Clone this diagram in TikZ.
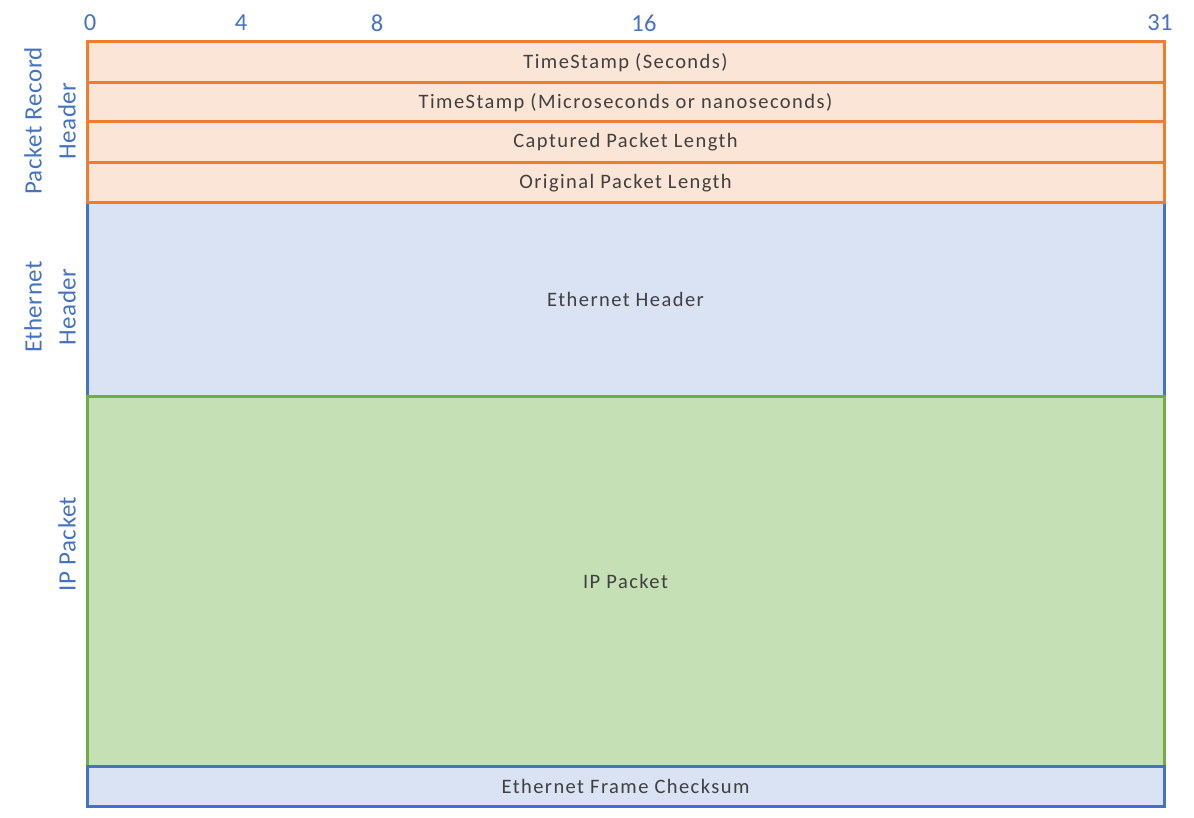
\documentclass[tikz,border=0pt]{standalone}
\usepackage{fontspec}
\setmainfont{Carlito}
\newfontfamily\fieldfont[LetterSpace=7]{Carlito}
\newfontfamily\labelfont[LetterSpace=2]{Carlito}
\definecolor{orangeline}{HTML}{ED7D31}
\definecolor{orangefill}{HTML}{FBE5D6}
\definecolor{blueline}{HTML}{4472C4}
\definecolor{bluefill}{HTML}{DAE3F3}
\definecolor{greenline}{HTML}{70AD47}
\definecolor{greenfill}{HTML}{C5E0B4}
\definecolor{fieldtext}{HTML}{404040}
\tikzset{
  field/.style={rectangle, inner sep=0pt, line width=3pt, minimum width=1077pt,
    text=fieldtext, font=\fieldfont\fontsize{20.5}{24}\selectfont},
  recfield/.style={field, draw=orangeline, fill=orangefill, minimum height=40.5pt},
  ethfield/.style={field, draw=blueline, fill=bluefill},
  ipfield/.style={field, draw=greenline, fill=greenfill},
  bitlabel/.style={text=blueline, font=\labelfont\fontsize{24.5}{28}\selectfont, inner sep=0pt},
  sidelabel/.style={text=blueline, font=\labelfont\fontsize{25}{34}\selectfont, rotate=90,
    align=center, inner sep=0pt},
}
\begin{document}
\begin{tikzpicture}[x=1pt,y=-1pt]
\useasboundingbox (0,0) rectangle (1194,818);

% bit positions
\node[bitlabel] (b0)  at (90,23)   {0};
\node[bitlabel] (b4)  at (241,23)  {4};
\node[bitlabel] (b8)  at (377,23)  {8};
\node[bitlabel] (b16) at (644,23)  {16};
\node[bitlabel] (b31) at (1160,23) {31};

% frame body
\node[ethfield, minimum height=193pt] (eth) at (625.5,299.5) {Ethernet Header};
\node[ipfield, minimum height=370pt] (ip) at (625.5,581) {IP Packet};
\node[ethfield, minimum height=40pt] (fcs) at (625.5,786) {Ethernet Frame Checksum};

% packet record header
\node[recfield] (ts)   at (625.5,62.25)  {TimeStamp (Seconds)};
\node[recfield] (tsu)  at (625.5,102.75) {TimeStamp (Microseconds or nanoseconds)};
\node[recfield] (cap)  at (625.5,142.25) {Captured Packet Length};
\node[recfield] (orig) at (625.5,182.75) {Original Packet Length};

% side labels
\node[sidelabel] (lrec) at (50,121) {Packet Record\\Header};
\node[sidelabel] (leth) at (50,307) {Ethernet\\Header};
\node[sidelabel] (lip)  at (67,544) {IP Packet};
\end{tikzpicture}
\end{document}
